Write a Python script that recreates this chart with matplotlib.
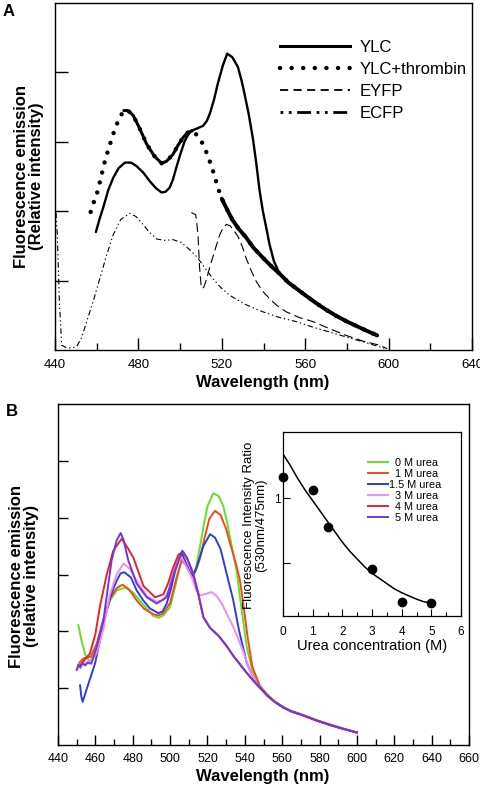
import matplotlib
matplotlib.use('Agg')
import matplotlib.pyplot as plt
from matplotlib.lines import Line2D
import numpy as np

plt.rcParams['font.family'] = ['Liberation Sans', 'DejaVu Sans']

# ---------------- Panel A data ----------------
ylc_x = [459.6, 461.5, 463.1, 465.5, 467.9, 470.5, 473.5, 476.5, 479.1, 482.5, 485.5, 488.5,
         491.1, 493.0, 495.0, 496.5, 498.2, 500.2, 502.2, 503.8, 505.4, 508.0, 511.0, 512.8,
         514.2, 516.2, 518.1, 520.5, 522.6, 525.0, 527.7, 529.5, 530.9, 532.9, 534.9, 536.5,
         538.1, 539.7, 541.4, 542.9, 545.0, 547.7, 550.9, 555.0, 560.0, 565.0, 570.0, 575.0,
         580.0, 585.0, 590.0, 594.5]
ylc_y = [1.70, 1.90, 2.05, 2.30, 2.48, 2.62, 2.70, 2.70, 2.65, 2.55, 2.43, 2.33,
         2.27, 2.28, 2.34, 2.45, 2.63, 2.83, 3.01, 3.10, 3.16, 3.19, 3.23, 3.30,
         3.40, 3.60, 3.84, 4.10, 4.27, 4.22, 4.08, 3.88, 3.69, 3.40, 3.05, 2.70,
         2.30, 2.00, 1.75, 1.52, 1.28, 1.10, 1.00, 0.91, 0.80, 0.69, 0.58, 0.49,
         0.41, 0.34, 0.27, 0.22]

thr_x = [457.1, 458.5, 460.0, 462.0, 463.9, 466.0, 467.9, 470.5, 473.0, 475.0, 477.5, 480.5,
         483.9, 487.5, 491.1, 493.5, 496.6, 499.0, 501.4, 503.5, 505.9, 508.0, 510.2, 512.2,
         514.2, 516.2, 518.1, 520.0, 522.1, 525.0, 528.0, 531.7, 535.0, 540.0, 544.0, 547.7,
         552.0, 556.0, 560.0, 565.0, 570.0, 575.0, 580.0, 585.0, 590.0, 594.5]
thr_y = [1.99, 2.12, 2.24, 2.48, 2.72, 2.93, 3.11, 3.32, 3.45, 3.45, 3.38, 3.20,
         2.97, 2.80, 2.69, 2.72, 2.82, 2.95, 3.06, 3.13, 3.16, 3.10, 3.01, 2.88,
         2.72, 2.54, 2.34, 2.18, 2.05, 1.88, 1.75, 1.62, 1.48, 1.32, 1.20, 1.10,
         0.97, 0.88, 0.79, 0.68, 0.58, 0.49, 0.41, 0.34, 0.27, 0.21]

eyfp_x = [505.4, 507.5, 508.6, 509.3, 510.2, 511.3, 512.5, 514.1, 516.5, 519.0, 520.8, 522.2,
          524.0, 525.8, 527.7, 529.7, 531.7, 534.0, 536.5, 539.5, 542.9, 546.5, 550.9, 557.0,
          563.6, 571.5, 579.6, 587.5, 595.5, 599.3]
eyfp_y = [1.98, 1.95, 1.66, 1.20, 0.89, 0.90, 1.00, 1.18, 1.42, 1.66, 1.77, 1.81,
          1.79, 1.72, 1.64, 1.50, 1.32, 1.15, 0.99, 0.85, 0.74, 0.64, 0.55, 0.47,
          0.41, 0.31, 0.21, 0.13, 0.07, 0.02]

ecfp_x = [440.5, 441.1, 442.1, 443.2, 445.6, 448.0, 450.4, 452.8, 455.2, 458.5, 461.5, 464.7,
          467.9, 471.5, 475.9, 479.0, 482.2, 485.5, 488.7, 492.5, 496.6, 500.6, 504.0, 507.8,
          511.5, 515.7, 519.5, 523.7, 531.0, 539.7, 547.5, 555.6, 563.5, 571.6, 579.5, 587.5,
          593.0, 598.7]
ecfp_y = [1.98, 1.67, 0.70, 0.07, 0.03, 0.03, 0.05, 0.18, 0.41, 0.72, 1.03, 1.36,
          1.66, 1.88, 1.97, 1.92, 1.81, 1.69, 1.60, 1.58, 1.59, 1.55, 1.46, 1.35,
          1.20, 1.03, 0.90, 0.79, 0.66, 0.55, 0.47, 0.41, 0.33, 0.26, 0.19, 0.12,
          0.07, 0.02]

labels_A = ['YLC', 'YLC+thrombin', 'EYFP', 'ECFP']
xticks_A = [440, 480, 520, 560, 600, 640]

# ---------------- Panel B data ----------------
wl_0M = [450.9, 452.5, 454.5, 456.2, 457.5, 460.7, 464.3, 467.8, 471.4, 475.9, 480.3, 485.7,
         491.0, 494.0, 496.4, 500.0, 503.5, 506.2, 508.9, 511.6, 513.5, 515.5, 517.8, 520.0,
         523.1, 526.0, 528.5, 530.3, 533.0, 535.6, 537.4, 539.5, 541.0, 544.0, 548.1, 552.0,
         556.0, 560.6, 565.0, 569.6, 578.5, 585.0, 592.0, 600.0]
int_0M = [2.11, 1.85, 1.60, 1.50, 1.47, 1.72, 2.19, 2.54, 2.72, 2.77, 2.68, 2.47,
          2.27, 2.24, 2.28, 2.43, 2.89, 3.28, 3.15, 2.96, 3.05, 3.40, 3.83, 4.20,
          4.43, 4.38, 4.20, 3.95, 3.50, 3.07, 2.60, 2.10, 1.73, 1.32, 1.04, 0.89,
          0.77, 0.67, 0.60, 0.55, 0.44, 0.37, 0.30, 0.22]

wl_1M = [451.5, 453.5, 455.4, 457.5, 460.7, 464.3, 467.8, 471.4, 474.5, 478.0, 482.0, 486.0,
         491.0, 494.0, 496.4, 500.0, 503.5, 506.2, 508.9, 511.6, 513.5, 516.0, 518.5, 521.0,
         524.0, 527.0, 530.0, 532.1, 535.0, 537.4, 539.5, 541.5, 544.0, 548.0, 552.0, 556.0,
         560.6, 565.0, 569.6, 578.5, 585.0, 592.0, 600.0]
int_1M = [1.45, 1.52, 1.54, 1.55, 1.78, 2.22, 2.58, 2.76, 2.82, 2.74, 2.55, 2.40,
          2.30, 2.28, 2.32, 2.50, 2.95, 3.25, 3.15, 2.97, 3.05, 3.28, 3.65, 3.98,
          4.12, 4.05, 3.80, 3.55, 3.22, 2.90, 2.40, 1.90, 1.38, 1.04, 0.88, 0.76,
          0.66, 0.59, 0.54, 0.43, 0.36, 0.29, 0.22]

wl_15M = [451.8, 452.5, 453.2, 455.5, 459.8, 462.5, 466.1, 469.0, 471.4, 473.5, 475.5, 479.0,
          482.1, 485.5, 489.3, 493.7, 496.0, 498.2, 500.5, 502.6, 505.0, 506.5, 508.5, 510.7,
          512.0, 514.2, 517.8, 521.4, 524.0, 527.0, 530.0, 533.8, 537.0, 541.0, 545.5, 548.0,
          552.0, 556.0, 560.6, 565.0, 569.6, 578.5, 585.0, 592.0, 600.0]
int_15M = [1.05, 0.85, 0.76, 1.00, 1.43, 1.85, 2.37, 2.70, 2.89, 3.02, 3.04, 2.95,
           2.72, 2.55, 2.40, 2.32, 2.35, 2.49, 2.75, 3.05, 3.30, 3.36, 3.20, 3.04,
           2.97, 3.13, 3.50, 3.71, 3.65, 3.45, 3.05, 2.55, 2.00, 1.45, 1.12, 1.02,
           0.87, 0.76, 0.66, 0.59, 0.54, 0.43, 0.36, 0.29, 0.22]

wl_3M = [450.5, 452.5, 455.0, 457.5, 460.5, 464.3, 467.8, 471.4, 475.0, 478.5, 482.1, 487.5,
         492.8, 496.4, 499.0, 501.7, 504.0, 506.2, 508.5, 511.6, 514.0, 516.0, 519.0, 522.3,
         525.0, 527.6, 530.5, 533.8, 538.3, 542.0, 545.5, 548.0, 552.0, 556.0, 560.6, 565.0,
         569.6, 578.5, 585.0, 592.0, 600.0]
int_3M = [1.35, 1.42, 1.45, 1.48, 1.60, 2.05, 2.65, 3.00, 3.19, 3.10, 2.89, 2.62,
          2.52, 2.55, 2.70, 3.05, 3.25, 3.30, 3.15, 2.95, 2.72, 2.63, 2.66, 2.69,
          2.62, 2.49, 2.30, 2.08, 1.72, 1.38, 1.12, 1.02, 0.87, 0.76, 0.66, 0.59,
          0.54, 0.43, 0.36, 0.29, 0.22]

wl_4M = [451.8, 453.5, 455.4, 457.1, 460.0, 462.5, 466.1, 469.6, 474.1, 477.6, 480.3, 485.7,
         491.9, 496.4, 499.0, 501.7, 504.5, 507.0, 509.5, 512.4, 515.1, 517.8, 521.4, 526.0,
         530.3, 533.8, 537.4, 541.0, 544.6, 548.0, 552.0, 556.0, 560.6, 565.0, 569.6, 578.5,
         585.0, 592.0, 600.0]
int_4M = [1.40, 1.47, 1.54, 1.61, 1.95, 2.45, 3.00, 3.42, 3.63, 3.45, 3.30, 2.80,
          2.60, 2.65, 2.85, 3.13, 3.35, 3.40, 3.25, 3.01, 2.66, 2.25, 2.06, 1.92,
          1.74, 1.57, 1.42, 1.27, 1.13, 1.01, 0.87, 0.76, 0.66, 0.59, 0.54, 0.43,
          0.36, 0.29, 0.22]

wl_5M = [450.0, 451.0, 452.0, 453.0, 454.5, 456.0, 457.8, 460.5, 464.3, 468.7, 471.4, 473.5,
         475.0, 477.6, 482.1, 487.5, 492.8, 498.2, 502.6, 506.5, 509.0, 512.4, 515.1, 517.8,
         521.4, 526.0, 530.3, 533.8, 537.4, 541.0, 544.6, 548.0, 552.0, 556.0, 560.6, 565.0,
         569.6, 578.5, 585.0, 592.0, 600.0]
int_5M = [1.32, 1.42, 1.36, 1.44, 1.40, 1.45, 1.43, 1.70, 2.19, 3.25, 3.60, 3.73,
          3.62, 3.25, 2.84, 2.60, 2.49, 2.60, 3.07, 3.42, 3.30, 3.01, 2.66, 2.25,
          2.06, 1.92, 1.74, 1.57, 1.42, 1.27, 1.13, 1.01, 0.87, 0.76, 0.66, 0.59,
          0.54, 0.43, 0.36, 0.29, 0.22]

urea_labels = ['  0 M urea', '  1 M urea', '1.5 M urea', '  3 M urea', '  4 M urea', '  5 M urea']
urea_colors = ['#66e020', '#f24a1e', '#2a3fe0', '#f08cf0', '#e0262a', '#7436dc']
xticks_B = list(range(440, 661, 20))

# inset data
urea_conc = [0, 1, 1.5, 3, 4, 5]
ratio = [1.16, 1.06, 0.78, 0.45, 0.20, 0.19]
fit_conc = [0, 0.25, 0.5, 0.75, 1.0, 1.25, 1.5, 1.75, 2.0, 2.25, 2.5, 2.75, 3.0, 3.25,
            3.5, 3.75, 4.0, 4.25, 4.5, 4.75, 5.0]
fit_ratio = [1.34, 1.25, 1.15, 1.06, 0.98, 0.90, 0.82, 0.74, 0.66, 0.59, 0.53, 0.47, 0.42,
             0.38, 0.34, 0.30, 0.27, 0.245, 0.22, 0.20, 0.19]

W, H = 480, 786
fig = plt.figure(figsize=(W / 100, H / 100), dpi=100)

# ---------------- Panel A ----------------
axA = fig.add_axes([55 / W, 1 - 350 / H, 417 / W, 347 / H])
axA.set_xlim(440, 640)
axA.set_ylim(0, 5)
axA.plot(ylc_x, ylc_y, color='black', lw=1.7, solid_capstyle='round')
tx = np.array(thr_x); ty = np.array(thr_y)
axA.plot(tx, ty, color='black', lw=3.2, linestyle=(0, (0.01, 2.3)), dash_capstyle='round')
m1 = (tx >= 471) & (tx <= 507)
axA.plot(tx[m1], ty[m1], color='black', lw=2.2, solid_capstyle='round')
m2 = tx >= 519
axA.plot(tx[m2], ty[m2], color='black', lw=2.8, solid_capstyle='round')
axA.plot(eyfp_x, eyfp_y, color='black', lw=0.8, linestyle=(0, (8, 4)))
axA.plot(ecfp_x, ecfp_y, color='black', lw=0.8, linestyle=(0, (5, 2.5, 1.2, 2.5, 1.2, 2.5)))

axA.set_xticks(xticks_A)
axA.set_xticklabels([str(v) for v in xticks_A])
axA.set_xticks(list(range(460, 640, 40)), minor=True)
axA.set_yticks([1, 2, 3, 4])
axA.set_yticklabels([])
axA.tick_params(axis='both', which='major', direction='in', length=9, width=1.0,
                labelsize=9.5, pad=6.5, top=False, right=False)
axA.tick_params(axis='x', which='minor', direction='in', length=5, width=1.0)
for s in axA.spines.values():
    s.set_linewidth(1.0)

hA = [Line2D([], [], color='black', lw=2.2),
      Line2D([], [], color='black', lw=3.2, linestyle=(0, (0.01, 2.6)), dash_capstyle='round'),
      Line2D([], [], color='black', lw=1.3, linestyle=(0, (4.5, 3))),
      Line2D([], [], color='black', lw=2.0, linestyle=(0, (1, 2, 1, 2, 5, 2)))]
axA.legend(hA, labels_A, loc='upper left', bbox_to_anchor=(0.54, 0.893), frameon=False,
           fontsize=12, handlelength=4.2, handletextpad=0.55, labelspacing=0.42,
           borderpad=0, borderaxespad=0)

fig.text(29 / W, 1 - 176 / H, 'Fluorescence emission\n(Relative intensity)', rotation=90,
         ha='center', va='center', fontsize=12, fontweight='bold', linespacing=1.05)
fig.text(263 / W, 1 - 383 / H, 'Wavelength (nm)', ha='center', va='center',
         fontsize=12, fontweight='bold')
fig.text(9 / W, 1 - 11 / H, 'A', ha='center', va='center', fontsize=12, fontweight='bold')

# ---------------- Panel B ----------------
axB = fig.add_axes([58 / W, 1 - 745 / H, 411 / W, 341 / H])
axB.set_xlim(440, 660)
axB.set_ylim(0, 6)
series_B = [(wl_0M, int_0M), (wl_1M, int_1M), (wl_15M, int_15M),
            (wl_3M, int_3M), (wl_4M, int_4M), (wl_5M, int_5M)]
linesB = []
for (xs, ys), c in zip(series_B, urea_colors):
    ln, = axB.plot(xs, ys, color=c, lw=1.4)
    linesB.append(ln)
axB.set_xticks(xticks_B)
axB.set_xticklabels([str(v) for v in xticks_B])
axB.set_xticks(list(range(450, 660, 20)), minor=True)
axB.set_yticks([1, 2, 3, 4, 5])
axB.set_yticklabels([])
axB.tick_params(axis='both', which='major', direction='in', length=7.5, width=1.0,
                labelsize=9, pad=5.5, top=False, right=False)
axB.tick_params(axis='x', which='minor', direction='in', length=4, width=1.0)
for s in axB.spines.values():
    s.set_linewidth(1.0)

fig.text(24 / W, 1 - 576 / H, 'Fluorescence emission\n(relative intensity)', rotation=90,
         ha='center', va='center', fontsize=12, fontweight='bold', linespacing=1.05)
fig.text(263 / W, 1 - 776 / H, 'Wavelength (nm)', ha='center', va='center',
         fontsize=12, fontweight='bold')
fig.text(12 / W, 1 - 411 / H, 'B', ha='center', va='center', fontsize=12, fontweight='bold')

# ---------------- Inset ----------------
axI = fig.add_axes([283 / W, 1 - 616 / H, 178 / W, 184 / H])
axI.set_xlim(0, 6)
axI.set_ylim(0.09, 1.51)
axI.plot(fit_conc, fit_ratio, color='black', lw=1.1)
axI.plot(urea_conc, ratio, 'o', color='black', ms=6, clip_on=False, zorder=5)
axI.set_xticks(range(0, 7))
axI.set_xticks([0.5, 1.5, 2.5, 3.5, 4.5, 5.5], minor=True)
axI.set_yticks([0.5, 1.0])
axI.set_yticklabels(['', '1'])
axI.tick_params(axis='both', which='major', direction='in', length=5, width=0.8,
                labelsize=8.5, pad=2, top=False, right=False)
axI.tick_params(axis='x', which='major', pad=7)
axI.tick_params(axis='x', which='minor', direction='in', length=3, width=0.8)
for s in axI.spines.values():
    s.set_linewidth(0.9)
axI.set_xlabel('Urea concentration (M)', fontsize=10.5, labelpad=1)
fig.text(255 / W, 1 - 525 / H, 'Fluorescence Intensity Ratio\n(530nm/475nm)', rotation=90,
         ha='center', va='center', fontsize=9.5, linespacing=1.05)
axI.legend(linesB, urea_labels, loc='upper left', bbox_to_anchor=(0.478, 0.86),
           frameon=False, fontsize=7.8, handlelength=1.8, handletextpad=0.1,
           labelspacing=0.1, borderpad=0, borderaxespad=0)

fig.savefig('out.png', dpi=100)
